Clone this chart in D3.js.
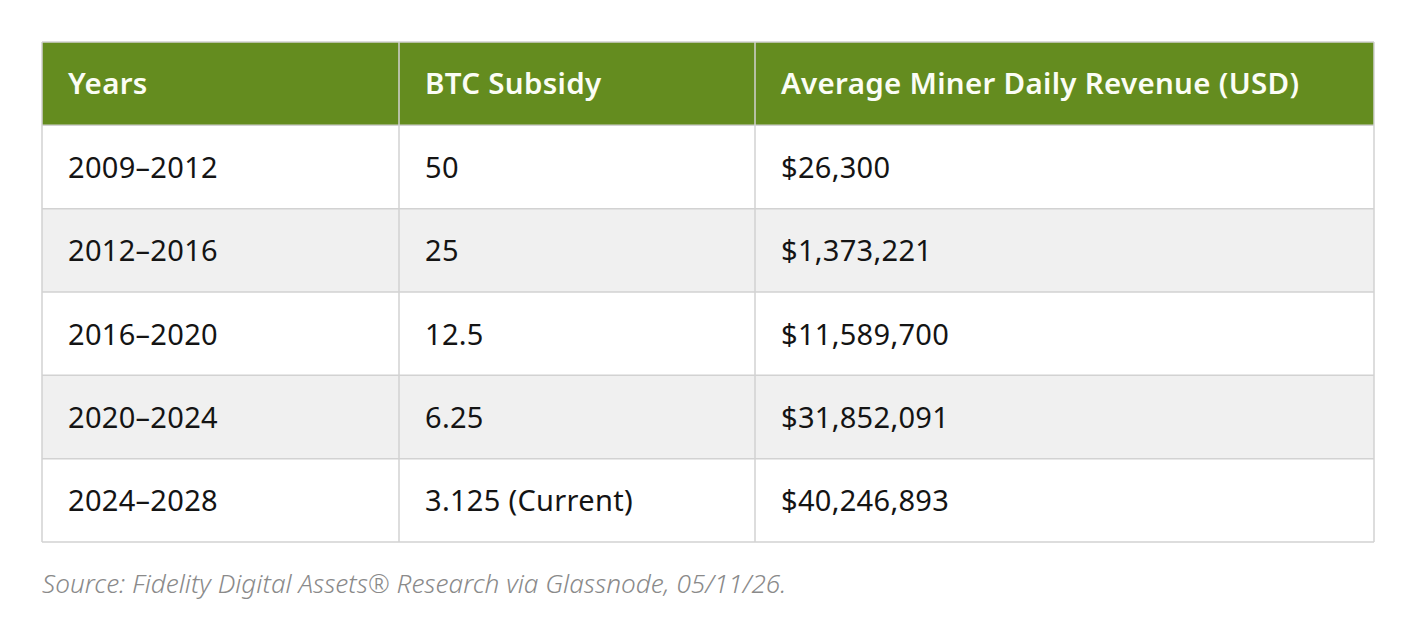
<!DOCTYPE html>
<html>
<head>
<meta charset="utf-8">
<script src="https://cdn.jsdelivr.net/npm/d3@7"></script>
<style>
  body { margin: 0; background: #fff; }
  svg text { font-family: "Noto Sans", "Open Sans", sans-serif; }
</style>
</head>
<body>
<svg id="chart" width="1417" height="635"></svg>
<script>
// table data
var headers = ['Years', 'BTC Subsidy', 'Average Miner Daily Revenue (USD)'];
var years = ['2009–2012', '2012–2016', '2016–2020', '2020–2024', '2024–2028'];
var subsidy = ['50', '25', '12.5', '6.25', '3.125 (Current)'];
var revenue = ['$26,300', '$1,373,221', '$11,589,700', '$31,852,091', '$40,246,893'];
var source = 'Source: Fidelity Digital Assets® Research via Glassnode, 05/11/26.';

var rows = years.map(function(y, i){ return [y, subsidy[i], revenue[i]]; });

var svg = d3.select('#chart');

var tblLeft = 42, tblRight = 1374, tblTop = 42, tblBottom = 542;
var colEdges = [42, 399, 755, 1374];   // column boundaries
var y = d3.scaleBand()
    .domain(d3.range(rows.length + 1))   // 0 = header
    .range([tblTop, tblBottom]);

// row backgrounds
svg.selectAll('rect.row')
    .data(d3.range(rows.length + 1))
  .enter().append('rect')
    .attr('x', tblLeft)
    .attr('y', function(d){ return y(d); })
    .attr('width', tblRight - tblLeft)
    .attr('height', y.bandwidth())
    .attr('fill', function(d){ return d === 0 ? '#648c1f' : (d % 2 === 0 ? '#f0f0f0' : '#ffffff'); });

// grid lines
var grid = svg.append('g').attr('stroke', '#d2d2d2').attr('stroke-width', 1.5);
var hLines = d3.range(rows.length + 1).map(function(i){ return y(i); }).concat([tblBottom]);
grid.selectAll('line.h')
    .data(hLines)
  .enter().append('line')
    .attr('x1', tblLeft).attr('x2', tblRight)
    .attr('y1', function(d){ return d; }).attr('y2', function(d){ return d; });
grid.selectAll('line.v')
    .data(colEdges)
  .enter().append('line')
    .attr('x1', function(d){ return d; }).attr('x2', function(d){ return d; })
    .attr('y1', tblTop).attr('y2', tblBottom);

// header text
svg.selectAll('text.head')
    .data(headers)
  .enter().append('text')
    .attr('class', 'head')
    .attr('x', function(d, i){ return colEdges[i] + 26; })
    .attr('y', y(0) + y.bandwidth() / 2)
    .attr('dy', '0.36em')
    .attr('fill', '#fbfdf5')
    .attr('font-size', 29.5)
    .attr('font-weight', 600)
    .attr('letter-spacing', 0.3)
    .text(function(d){ return d; });

// body text
var rowG = svg.selectAll('g.r')
    .data(rows)
  .enter().append('g')
    .attr('transform', function(d, i){ return 'translate(0,' + (y(i + 1) + y.bandwidth() / 2) + ')'; });

rowG.selectAll('text')
    .data(function(d){ return d; })
  .enter().append('text')
    .attr('x', function(d, i){ return colEdges[i] + 26; })
    .attr('dy', '0.38em')
    .attr('fill', '#141414')
    .attr('font-size', 29)
    .attr('letter-spacing', 0.3)
    .text(function(d){ return d; });

svg.append('text')
    .attr('x', 42)
    .attr('y', 593)
    .attr('fill', '#8a8a8a')
    .attr('font-size', 26.2)
    .attr('font-style', 'italic')
    .attr('font-weight', 300)
    .text(source);
</script>
</body>
</html>
